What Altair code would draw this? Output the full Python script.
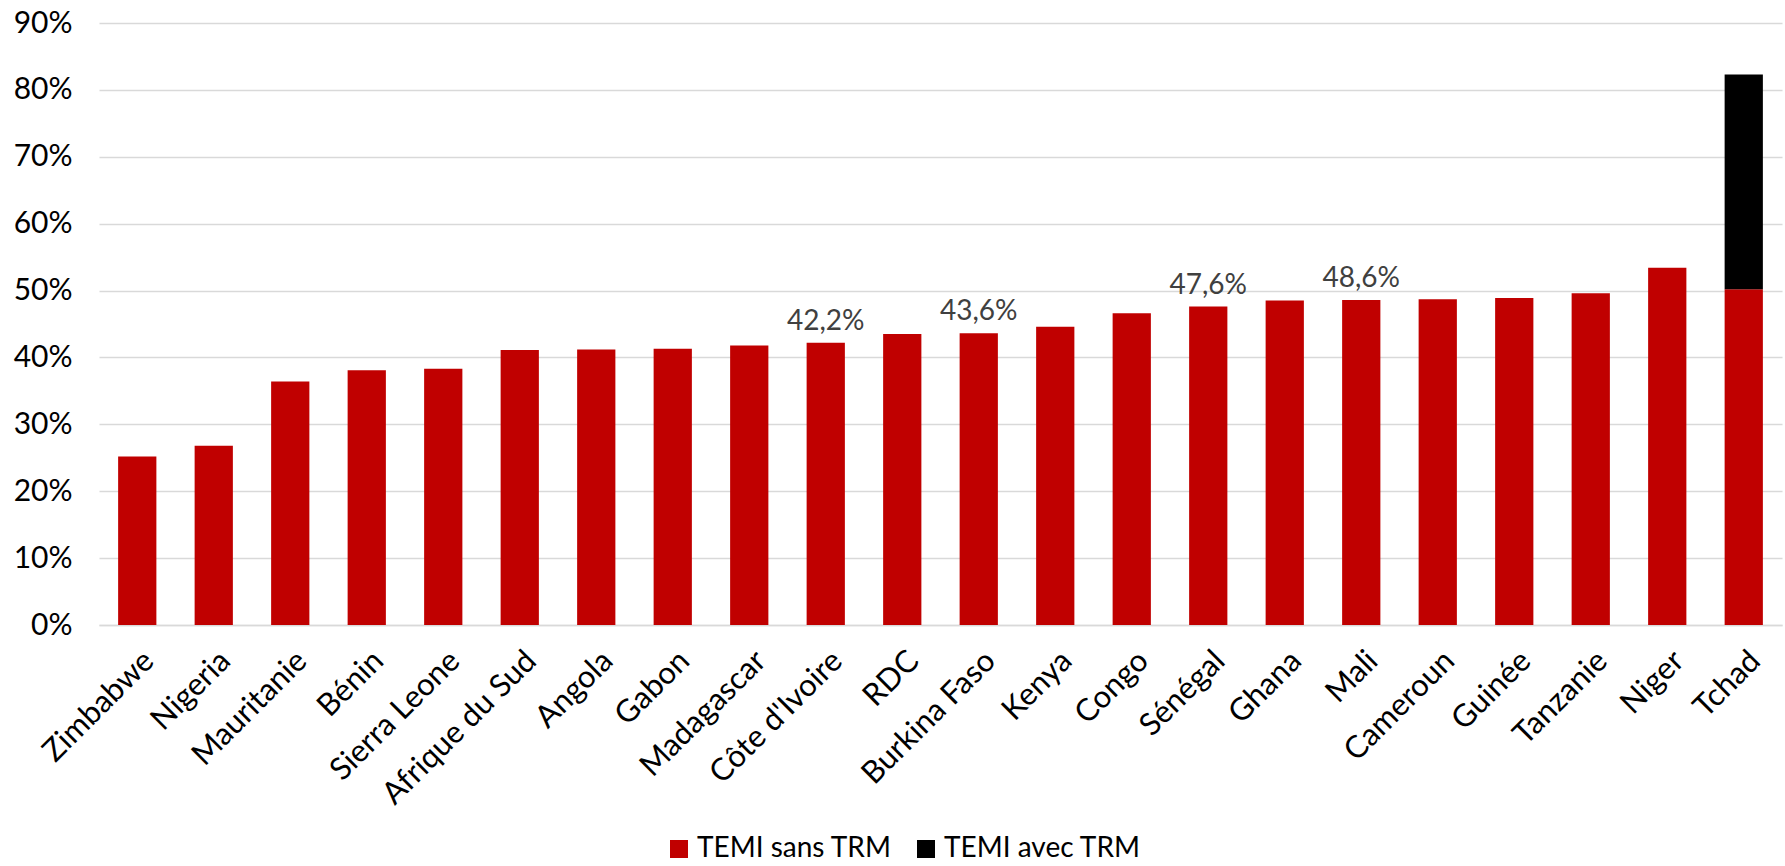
import altair as alt
import pandas as pd

# TEMI by country (percent)
countries = [
    "Zimbabwe", "Nigeria", "Mauritanie", "Bénin", "Sierra Leone", "Afrique du Sud",
    "Angola", "Gabon", "Madagascar", "Côte d'Ivoire", "RDC", "Burkina Faso",
    "Kenya", "Congo", "Sénégal", "Ghana", "Mali", "Cameroun", "Guinée",
    "Tanzanie", "Niger", "Tchad",
]
temi_sans_trm = [
    25.2, 26.8, 36.4, 38.1, 38.3, 41.1,
    41.2, 41.3, 41.8, 42.2, 43.5, 43.6,
    44.6, 46.6, 47.6, 48.5, 48.6, 48.7, 48.9,
    49.6, 53.4, 50.2,
]
temi_avec_trm = [0.0] * 21 + [32.1]
labelled = ["Côte d'Ivoire", "Burkina Faso", "Sénégal", "Mali"]

series_names = ["TEMI sans TRM", "TEMI avec TRM"]
colors = ["#C00000", "#000000"]
y_ticks = [0, 0.1, 0.2, 0.3, 0.4, 0.5, 0.6, 0.7, 0.8, 0.9]

FONT = "Lato"

rows = []
for c, a, b in zip(countries, temi_sans_trm, temi_avec_trm):
    rows.append({"pays": c, "serie": series_names[0], "ord": 0, "valeur": a / 100})
    rows.append({"pays": c, "serie": series_names[1], "ord": 1, "valeur": b / 100})
df = pd.DataFrame(rows)

lab_rows = []
for c, a in zip(countries, temi_sans_trm):
    if c in labelled:
        lab_rows.append({"pays": c, "valeur": a / 100,
                         "texte": f"{a:.1f}".replace(".", ",") + "%"})
df_lab = pd.DataFrame(lab_rows)

x_enc = alt.X(
    "pays:N",
    sort=countries,
    scale=alt.Scale(paddingInner=0.5, paddingOuter=0.25),
    axis=alt.Axis(
        title=None, labelAngle=-45, labelAlign="right", labelBaseline="middle",
        labelFontSize=31, labelFont=FONT, labelColor="#000000", ticks=False,
        domainColor="#d9d9d9", domainWidth=1.5, labelPadding=31, labelOffset=12,
        labelLimit=0,
    ),
)

bars = alt.Chart(df).mark_bar().encode(
    x=x_enc,
    y=alt.Y(
        "valeur:Q",
        stack="zero",
        scale=alt.Scale(domain=[0, 0.9], nice=False),
        axis=alt.Axis(
            title=None, format=".0%", values=y_ticks, grid=True,
            gridColor="#d9d9d9", gridWidth=1.5, domain=False, ticks=False,
            labelPadding=27, labelFontSize=30, labelFont=FONT, labelColor="#000000",
        ),
    ),
    color=alt.Color(
        "serie:N",
        scale=alt.Scale(domain=series_names, range=colors),
        legend=alt.Legend(
            title=None, orient="none", legendX=566, legendY=812,
            direction="horizontal", symbolType="square", symbolSize=324,
            symbolStrokeWidth=0, labelFontSize=28, labelFont=FONT,
            labelColor="#000000", columnPadding=20, labelOffset=4, labelLimit=0,
        ),
    ),
    order=alt.Order("ord:Q", sort="ascending"),
)

labels = alt.Chart(df_lab).mark_text(
    baseline="bottom", dy=-7, fontSize=28, font=FONT, color="#404040"
).encode(
    x=alt.X("pays:N", sort=countries),
    y=alt.Y("valeur:Q"),
    text="texte:N",
)

chart = (
    alt.layer(bars, labels)
    .properties(
        width=1683,
        height=602,
        background="white",
        autosize=alt.AutoSizeParams(type="none"),
        padding={"left": 99, "top": 23, "right": 3, "bottom": 241},
    )
    .configure_view(stroke=None, strokeWidth=0)
)

chart.save("out.html", embed_options={"renderer": "svg", "actions": False})
